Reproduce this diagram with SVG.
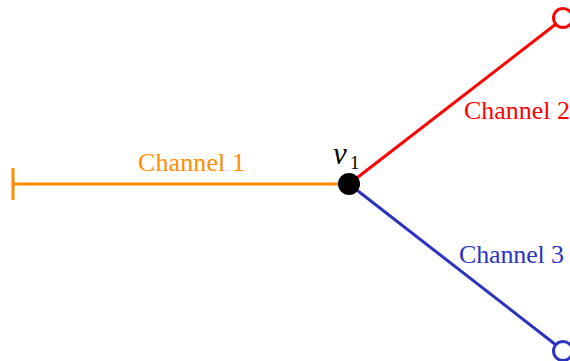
<svg xmlns="http://www.w3.org/2000/svg" width="570" height="361" viewBox="0 0 570 361">
<style>
.lbl{font-family:"Liberation Serif","DejaVu Serif",serif;font-size:26px}
.edge{stroke-width:3;fill:none}
</style>
<rect width="570" height="361" fill="#fff"/>
<g id="connectors">
<line class="edge" x1="13" y1="184" x2="349" y2="184" stroke="#FF8C00"/>
<line class="edge" x1="13" y1="168" x2="13" y2="200" stroke="#FF8C00"/>
<line class="edge" x1="349" y1="184" x2="556" y2="24" stroke="#FF0000"/>
<line class="edge" x1="349" y1="184" x2="556" y2="345" stroke="#2B33C0"/>
<text class="lbl" x="138" y="171" fill="#FF8C00" textLength="107">Channel 1</text>
<text class="lbl" x="464" y="119" fill="#FF0000" textLength="106">Channel 2</text>
<text class="lbl" x="459" y="263" fill="#2B33C0" textLength="105">Channel 3</text>
</g>
<g id="v1">
<circle cx="349" cy="184" r="11" fill="#000"/>
<text x="333" y="164" font-family="Liberation Serif,serif" font-style="italic" font-size="31" fill="#000">v</text>
<text x="350" y="169" font-family="Liberation Serif,serif" font-size="19" fill="#000">1</text>
</g>
<g id="end2">
<circle cx="563" cy="18" r="9.5" fill="#fff" stroke="#FF0000" stroke-width="3"/>
</g>
<g id="end3">
<circle cx="563" cy="351" r="9.5" fill="#fff" stroke="#2B33C0" stroke-width="3"/>
</g>
</svg>
